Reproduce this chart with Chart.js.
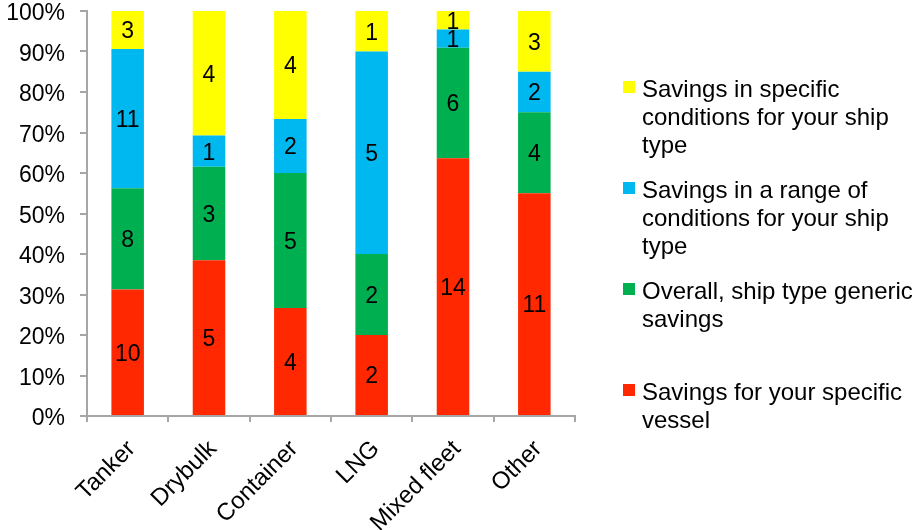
<!DOCTYPE html>
<html>
<head>
<meta charset="utf-8">
<script src="https://cdn.jsdelivr.net/npm/chart.js@4.4.0/dist/chart.umd.min.js"></script>
<style>
  html, body { margin: 0; padding: 0; background: #fff; }
  #wrap { width: 912px; height: 530px; position: relative; }
</style>
</head>
<body>
<div id="wrap"><canvas id="c" width="912" height="530"></canvas></div>
<script>
// Ship types on the x axis
const shipTypes = ['Tanker', 'Drybulk', 'Container', 'LNG', 'Mixed fleet', 'Other'];

// Number of responses per ship type, one array per kind of savings
const specificVessel   = [10, 5, 4, 2, 14, 11];
const generic          = [8, 3, 5, 2, 6, 4];
const rangeConditions  = [11, 1, 2, 5, 1, 2];
const specificConds    = [3, 4, 4, 1, 1, 3];

// Series names, split into the lines shown in the legend
const seriesNames = [
  ['Savings for your specific', 'vessel'],
  ['Overall, ship type generic', 'savings'],
  ['Savings in a range of', 'conditions for your ship', 'type'],
  ['Savings in specific', 'conditions for your ship', 'type']
];
const seriesColors = ['#FF2800', '#00B050', '#00B8F0', '#FFFF00'];

// Percent axis tick values
const percentTicks = [0, 10, 20, 30, 40, 50, 60, 70, 80, 90, 100];

const counts = [specificVessel, generic, rangeConditions, specificConds];
const totals = shipTypes.map((_, i) => counts.reduce((s, arr) => s + arr[i], 0));
const shares = counts.map(arr => arr.map((v, i) => v / totals[i] * 100));

const FONT = '"Liberation Sans", Arial, sans-serif';

// Writes the response count in the middle of each stacked segment
const countLabels = {
  id: 'countLabels',
  afterDatasetsDraw(chart) {
    const ctx = chart.ctx;
    ctx.save();
    ctx.font = '23px ' + FONT;
    ctx.fillStyle = '#000';
    ctx.textAlign = 'center';
    ctx.textBaseline = 'middle';
    chart.data.datasets.forEach((ds, di) => {
      const meta = chart.getDatasetMeta(di);
      meta.data.forEach((el, i) => {
        const n = counts[di][i];
        if (!n) return;
        ctx.fillText(String(n), el.x, (el.y + el.base) / 2 + 2);
      });
    });
    ctx.restore();
  }
};

// Legend on the right with wrapped series names, top series first
const sideLegend = {
  id: 'sideLegend',
  afterDraw(chart) {
    const ctx = chart.ctx;
    ctx.save();
    ctx.font = '24px ' + FONT;
    ctx.textAlign = 'left';
    ctx.textBaseline = 'alphabetic';
    const order = chart.data.datasets.map((_, i) => i).reverse();
    const boxX = 623, textX = 642, firstBase = 97, groupStep = 101, lineH = 28, box = 12;
    order.forEach((di, k) => {
      const ds = chart.data.datasets[di];
      const base = firstBase + k * groupStep;
      ctx.fillStyle = ds.backgroundColor;
      ctx.fillRect(boxX, base - 16, box, box);
      ctx.fillStyle = '#000';
      seriesNames[di].forEach((line, j) => {
        ctx.fillText(line, textX, base + j * lineH);
      });
    });
    ctx.restore();
  }
};

new Chart(document.getElementById('c'), {
  type: 'bar',
  data: {
    labels: shipTypes,
    datasets: shares.map((vals, i) => ({
      label: seriesNames[i].join(' '),
      data: vals,
      backgroundColor: seriesColors[i],
      borderWidth: 0,
      barPercentage: 0.4,
      categoryPercentage: 1.0
    }))
  },
  options: {
    responsive: false,
    animation: false,
    layout: { padding: { top: 11, right: 337, left: 0, bottom: 0 } },
    plugins: {
      legend: { display: false },
      tooltip: { enabled: false }
    },
    scales: {
      x: {
        stacked: true,
        border: { color: '#A6A6A6', width: 2 },
        grid: { display: true, drawOnChartArea: false, drawTicks: true, tickLength: 6, color: '#A6A6A6', lineWidth: 2, offset: true },
        ticks: {
          color: '#000',
          font: { family: FONT, size: 24 },
          maxRotation: 45, minRotation: 45, autoSkip: false,
          padding: 13,
          labelOffset: 4
        },
        afterFit(scale) { scale.height = 114; }
      },
      y: {
        stacked: true,
        min: 0, max: 100,
        border: { color: '#A6A6A6', width: 2 },
        grid: { display: true, drawOnChartArea: false, drawTicks: true, tickLength: 7, color: '#A6A6A6', lineWidth: 2 },
        afterBuildTicks(scale) { scale.ticks = percentTicks.map(v => ({ value: v })); },
        ticks: {
          color: '#000',
          font: { family: FONT, size: 23 },
          padding: 15,
          labelOffset: 3,
          callback: v => v + '%'
        },
        afterFit(scale) {
          scale.width = 87;
          scale.paddingTop = 0;
          scale.paddingBottom = 0;
        }
      }
    }
  },
  plugins: [countLabels, sideLegend]
});
</script>
</body>
</html>
